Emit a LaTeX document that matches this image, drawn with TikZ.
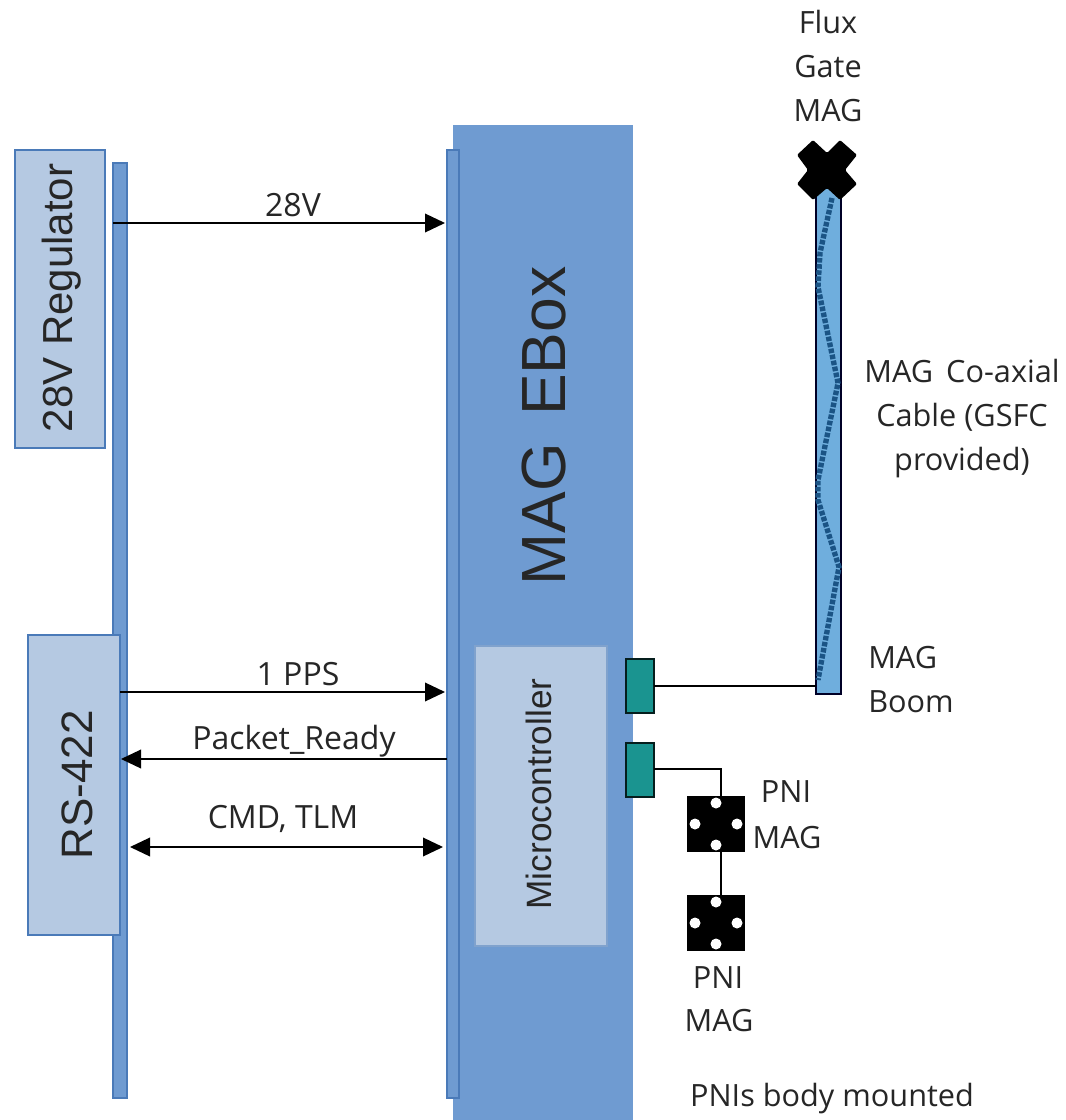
\documentclass[tikz,border=0pt]{standalone}
\usepackage{fontspec}
\setmainfont{Open Sans}
\newfontfamily\boxfont{Liberation Sans}
\usetikzlibrary{arrows.meta,calc}
\definecolor{mainblue}{HTML}{6F9BD1}
\definecolor{barblue}{HTML}{6F9BD1}
\definecolor{edgeblue}{HTML}{4A7AB8}
\definecolor{lightbox}{HTML}{B5C9E2}
\definecolor{boomblue}{HTML}{6FAEDD}
\definecolor{teal1}{HTML}{1A9490}
\definecolor{twist}{HTML}{1B5485}
\tikzset{
  px/.style={x=0.75pt,y=-0.75pt},
  bar/.style={fill=barblue,draw=edgeblue,line width=0.8pt},
  lightrect/.style={fill=lightbox,draw=edgeblue,line width=1pt},
  microrect/.style={fill=lightbox,draw=edgeblue!70,line width=0.8pt},
  conn/.style={fill=teal1,draw=black!80!teal1,line width=1.1pt},
  boomrect/.style={fill=boomblue,draw=black!85!blue,line width=1.3pt},
  wire/.style={draw=black,line width=1.1pt},
  sig/.style={draw=black,line width=1.1pt},
  tipend/.style={-{Triangle[length=15pt,width=14pt]}},
  tipboth/.style={{Triangle[length=15pt,width=14pt]}-{Triangle[length=15pt,width=14pt]}},
  lab/.style={font=\fontsize{23}{33}\selectfont,text=black!85,inner sep=0},
  siglab/.style={font=\fontsize{24}{30}\selectfont,text=black!85,inner sep=0},
  rotlab/.style={rotate=90,text=black!85,inner sep=0}
}
\newcommand{\rectnode}[6]{% name, style, x1,y1,x2,y2
  \path[#2] (#3,#4) rectangle (#5,#6);
  \coordinate (#1) at ($(#3,#4)!0.5!(#5,#6)$);
}
\newcommand{\pnimark}[3]{% name cx cy
  \fill[black] (#2-29,#3-28) rectangle (#2+29,#3+28);
  \foreach \dx/\dy in {0/-21,0/21,-21/0,21/0}
    \fill[white] (#2+\dx,#3+\dy) circle[radius=5.5];
  \coordinate (#1) at (#2,#3);
}
\begin{document}
\begin{tikzpicture}[px]
\useasboundingbox (0,0) rectangle (1066,1120);
% main box
\path[fill=mainblue] (453,125) rectangle (633,1120);
\coordinate (ebox) at (543,622);
% bars
\rectnode{leftbar}{bar}{113}{163}{127}{1098}
\rectnode{rightbar}{bar}{447}{150}{459}{1098}
% boxes
\rectnode{reg}{lightrect}{15}{150}{105}{448}
\rectnode{rs}{lightrect}{28}{635}{120}{935}
\rectnode{micro}{microrect}{475}{646}{607}{946}
% rotated labels
\node[rotlab,font=\boxfont\fontsize{31.5}{38}\selectfont] (reglab) at (62,298) {28V Regulator};
\node[rotlab,font=\boxfont\fontsize{33}{42}\selectfont] (rslab) at (77,785) {RS-422};
\node[rotlab,font=\boxfont\fontsize{46.8}{52}\selectfont] (eboxlab) at (544,426) {MAG\, EBox};
\node[rotlab,font=\boxfont\fontsize{26.4}{30}\selectfont] (microlab) at (539,794) {Microcontroller};
% signals
\coordinate (a1) at (113,223); \coordinate (a2) at (445,223);
\coordinate (b1) at (120,692); \coordinate (b2) at (445,692);
\coordinate (c1) at (447,759); \coordinate (c2) at (121,759);
\coordinate (d1) at (130,847); \coordinate (d2) at (443,847);
\draw[sig,tipend] (a1) -- (a2);
\draw[sig,tipend] (b1) -- (b2);
\draw[sig,tipend] (c1) -- (c2);
\draw[sig,tipboth] (d1) -- (d2);
\node[siglab] (l28) at (293,205) {28V};
\node[siglab] (lpps) at (298,674) {1 PPS};
\node[siglab] (lpack) at (294,741) {Packet\_Ready};
\node[siglab] (lcmd) at (283,819) {CMD, TLM};
% boom
\rectnode{boom}{boomrect}{816}{185}{841}{694}
\draw[twist,line width=4pt,dash pattern=on 3.4pt off 1.2pt]
  (832,198) -- (820,253) -- (818,287) -- (838,383) -- (818,480) -- (818,500) -- (839,567) -- (818,680);
% connectors
\rectnode{c1box}{conn}{626}{659}{654}{713}
\rectnode{c2box}{conn}{626}{743}{654}{797}
% X mark
\fill[black,rounded corners=1pt] (797,155) -- (813,140) -- (827,153) -- (840,140) -- (857,155) -- (845,170) -- (857,184) -- (840,200) -- (827,188) -- (813,200) -- (797,184) -- (808,170) -- cycle;
\coordinate (xmark) at (827,170);
% PNI
\pnimark{pnia}{716}{824}
\pnimark{pnib}{716}{923}
\coordinate (w1a) at (654,686); \coordinate (w1b) at (816,686);
\coordinate (w2a) at (654,769); \coordinate (w2b) at (721,769); \coordinate (w2c) at (721,797);
\coordinate (w3a) at (721,851); \coordinate (w3b) at (721,896);
\draw[wire] (w1a) -- (w1b);
\draw[wire] (w2a) -- (w2b) -- (w2c);
\draw[wire] (w3a) -- (w3b);
% labels
\node[lab,align=center] (flux) at (828,66) {Flux\\Gate\\MAG};
\node[lab,align=center] (coax) at (962,419) {MAG\, Co-axial\\Cable (GSFC\\provided)};
\node[lab,align=left] (mb) at (911,680) {MAG\\Boom};
\node[lab] (p1a) at (786,792) {PNI};
\node[lab] (p1b) at (787,838) {MAG};
\node[lab] (p2a) at (718,978) {PNI};
\node[lab] (p2b) at (719,1021) {MAG};
\node[lab] (mounted) at (832,1099) {PNIs body mounted};
\end{tikzpicture}
\end{document}
